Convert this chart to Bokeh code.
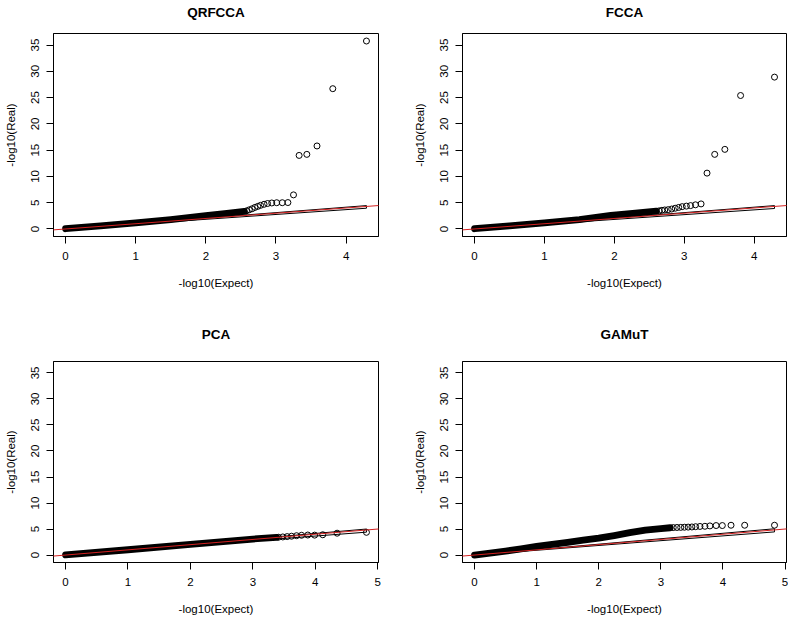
from bokeh.plotting import figure
from bokeh.models import Slope, Range1d, FixedTicker, LinearAxis
from bokeh.layouts import column, row
from bokeh.embed import file_html
from bokeh.resources import INLINE

FONT = "Liberation Sans"

titles = ["QRFCCA", "FCCA", "PCA", "GAMuT"]
x_label = "-log10(Expect)"
y_label = "-log10(Real)"
x_ticks_top = [0, 1, 2, 3, 4]
x_ticks_bottom = [0, 1, 2, 3, 4, 5]
y_ticks = [0, 5, 10, 15, 20, 25, 30, 35]

# QRFCCA
qrfcca_band_x = [0, 0.5, 1.0, 1.5, 2.0, 2.3, 2.55]
qrfcca_band_y = [0.05, 0.6, 1.17, 1.8, 2.55, 2.95, 3.35]
qrfcca_tail_x = [2.58, 2.62, 2.66, 2.70, 2.74, 2.78, 2.83, 2.88, 2.94, 3.01, 3.09, 3.17, 3.25, 3.33, 3.44, 3.585, 3.81, 4.29]
qrfcca_tail_y = [3.45, 3.65, 3.85, 4.1, 4.3, 4.5, 4.7, 4.85, 4.95, 5.0, 5.0, 5.03, 6.49, 14.0, 14.2, 15.8, 26.7, 35.77]
qrfcca_band_end = [4.45, 3.95]

# FCCA
fcca_band_x = [0, 0.5, 1.0, 1.5, 1.95, 2.3, 2.6]
fcca_band_y = [0.05, 0.6, 1.17, 1.8, 2.6, 3.0, 3.4]
fcca_tail_x = [2.64, 2.68, 2.72, 2.77, 2.82, 2.87, 2.92, 2.97, 3.03, 3.09, 3.16, 3.24, 3.325, 3.435, 3.58, 3.805, 4.29]
fcca_tail_y = [3.45, 3.55, 3.62, 3.68, 3.8, 3.95, 4.1, 4.25, 4.35, 4.45, 4.6, 4.77, 10.63, 14.2, 15.15, 25.4, 28.9]
fcca_band_end = [4.45, 3.9]

# PCA
pca_band_x = [0, 1.0, 2.0, 3.0, 3.38]
pca_band_y = [0.02, 1.02, 2.05, 3.08, 3.4]
pca_tail_x = [3.41, 3.48, 3.55, 3.62, 3.70, 3.78, 3.88, 3.99, 4.12, 4.35, 4.82]
pca_tail_y = [3.42, 3.48, 3.55, 3.62, 3.72, 3.8, 3.85, 3.83, 3.9, 4.2, 4.37]
pca_band_end = [5.0, 4.4]

# GAMuT
gamut_band_x = [0, 0.25, 0.5, 0.75, 1.0, 1.25, 1.5, 1.75, 2.0, 2.25, 2.5, 2.75, 3.0, 3.15]
gamut_band_y = [0.0, 0.35, 0.75, 1.2, 1.65, 2.05, 2.45, 2.85, 3.25, 3.75, 4.3, 4.8, 5.1, 5.25]
gamut_tail_x = [3.2, 3.26, 3.32, 3.38, 3.44, 3.50, 3.56, 3.63, 3.71, 3.79, 3.89, 3.99, 4.13, 4.35, 4.83]
gamut_tail_y = [5.28, 5.3, 5.32, 5.35, 5.37, 5.4, 5.45, 5.5, 5.53, 5.6, 5.67, 5.67, 5.73, 5.73, 5.73]
gamut_band_end = [5.05, 4.45]

y_max = max(qrfcca_tail_y + fcca_tail_y + pca_tail_y + gamut_tail_y)


def style_axis(ax):
    ax.axis_line_color = "black"
    ax.major_tick_line_color = "black"
    ax.major_tick_out = 7
    ax.major_tick_in = 0
    ax.minor_tick_out = 0
    ax.minor_tick_in = 0
    ax.major_label_text_font = FONT
    ax.major_label_text_font_size = "11.5px"
    ax.major_label_text_color = "black"
    ax.axis_label_text_font = FONT
    ax.axis_label_text_font_size = "11.5px"
    ax.axis_label_text_font_style = "normal"
    ax.axis_label_text_color = "black"


def panel(title, bx, by, tx, ty, band_end, xticks, width, height, mbl, mbr, mbt, mbb, title_standoff):
    xmax = max(tx)
    x0, x1 = -0.04 * xmax, 1.04 * xmax
    y0, y1 = -0.04 * y_max, 1.04 * y_max
    p = figure(width=width, height=height, output_backend="svg", toolbar_location=None,
               x_range=Range1d(x0, x1), y_range=Range1d(y0, y1),
               min_border_left=mbl, min_border_right=mbr,
               min_border_top=mbt, min_border_bottom=mbb,
               background_fill_color="white", border_fill_color="white")

    p.grid.visible = False
    p.outline_line_color = "black"
    p.outline_line_width = 1
    p.outline_line_alpha = 1

    p.line(bx, by, line_width=6.8, line_color="black", line_cap="round", line_join="round")
    p.scatter(tx, ty, marker="circle", size=6, fill_color=None, line_color="black", line_width=1)
    p.patch([0, xmax, xmax], [0, band_end[0], band_end[1]], fill_color=None,
            line_color="black", line_width=1)
    p.add_layout(Slope(gradient=1, y_intercept=0, line_color="#d42020", line_width=1))

    xa = p.below[0]
    style_axis(xa)
    xa.ticker = FixedTicker(ticks=xticks)
    xa.axis_label = x_label
    xa.major_label_standoff = 8
    xa.axis_label_standoff = 14

    ya = p.left[0]
    style_axis(ya)
    ya.ticker = FixedTicker(ticks=y_ticks)
    ya.axis_label = y_label
    ya.major_label_orientation = "parallel"
    ya.major_label_standoff = 7
    ya.axis_label_standoff = 12

    # title as the label of a bare axis above the plot
    tax = LinearAxis(ticker=FixedTicker(ticks=[]), axis_label=title,
                     axis_line_color=None, major_tick_out=0, major_tick_in=0,
                     minor_tick_out=0, minor_tick_in=0, major_label_standoff=0,
                     axis_label_standoff=title_standoff,
                     axis_label_text_font=FONT, axis_label_text_font_size="13.5px",
                     axis_label_text_font_style="bold", axis_label_text_color="black")
    p.add_layout(tax, "above")
    return p


p1 = panel(titles[0], qrfcca_band_x, qrfcca_band_y, qrfcca_tail_x, qrfcca_tail_y, qrfcca_band_end,
           x_ticks_top, 394, 309, 53, 16, 33, 73, 14)
p2 = panel(titles[1], fcca_band_x, fcca_band_y, fcca_tail_x, fcca_tail_y, fcca_band_end,
           x_ticks_top, 394, 309, 68, 2, 33, 73, 14)
p3 = panel(titles[2], pca_band_x, pca_band_y, pca_tail_x, pca_tail_y, pca_band_end,
           x_ticks_bottom, 394, 308, 53, 16, 52, 54, 20)
p4 = panel(titles[3], gamut_band_x, gamut_band_y, gamut_tail_x, gamut_tail_y, gamut_band_end,
           x_ticks_bottom, 394, 308, 68, 2, 52, 54, 20)

layout = column(row(p1, p2, spacing=0), row(p3, p4, spacing=0), spacing=0)
open("out.html", "w").write(file_html(layout, INLINE))
